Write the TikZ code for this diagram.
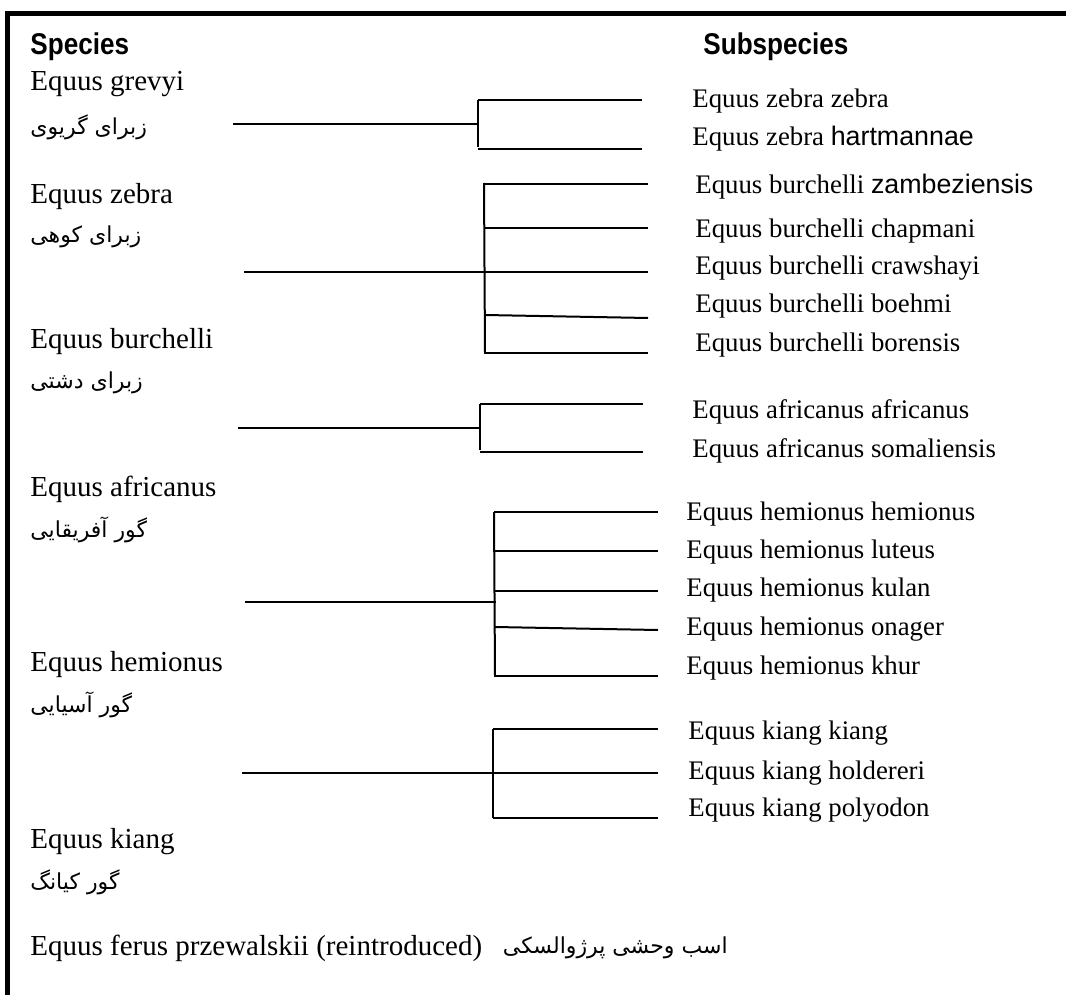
\documentclass[tikz,border=0pt]{standalone}
\usepackage{graphicx}
\usepackage{fontspec}
\setmainfont{Liberation Serif}
\setsansfont{Liberation Sans}
\newfontfamily\farsi[Script=Arabic]{DejaVu Sans}
\TeXXeTstate=1
\usetikzlibrary{positioning}
\tikzstyle{head} = [anchor=west, inner sep=0pt, font=\sffamily\bfseries\fontsize{15}{17}\selectfont]
\tikzstyle{species} = [anchor=west, inner sep=0pt, font=\fontsize{14.5}{17}\selectfont]
\tikzstyle{common} = [anchor=west, inner sep=0pt, font=\farsi\fontsize{11}{13}\selectfont]
\tikzstyle{subsp} = [anchor=west, inner sep=0pt, font=\fontsize{13.4}{16}\selectfont]
\tikzstyle{branch} = [line width=1pt]
\tikzstyle{frame} = [line width=2.5pt]

\begin{document}
\begin{tikzpicture}[x=0.5pt, y=-0.5pt]
\useasboundingbox (0,0) rectangle (1066,995);
\draw [frame] (5,14) -- (1066,14);
\draw [frame] (7.5,12) -- (7.5,995);

\node (hspecies) [head] at (30,47) {\scalebox{0.87}[1]{Species}};
\node (hsubspecies) [head] at (703,47) {\scalebox{0.87}[1]{Subspecies}};

% species column
\node (grevyi) [species] at (30,84) {Equus grevyi};
\node (cgrevyi) [common] at (30,127) {\beginR زبرای گریوی\endR};
\node (zebra) [species] at (30,197) {Equus zebra};
\node (czebra) [common] at (30,237) {\beginR زبرای کوهی\endR};
\node (burchelli) [species] at (30,342) {Equus burchelli};
\node (cburchelli) [common] at (30,383) {\beginR زبرای دشتی\endR};
\node (africanus) [species] at (30,489) {Equus africanus};
\node (cafricanus) [common] at (30,530) {\beginR گور آفریقایی\endR};
\node (hemionus) [species] at (30,665) {Equus hemionus};
\node (chemionus) [common] at (30,705) {\beginR گور آسیایی\endR};
\node (kiang) [species] at (30,842) {Equus kiang};
\node (ckiang) [common] at (30,882) {\beginR گور کیانگ\endR};
\node (przew) [species] at (30,948) {Equus ferus przewalskii (reintroduced)};
\node (cprzew) [common, right=10pt of przew] {\beginR اسب وحشی پرژوالسکی\endR};

% subspecies column
\node (zz) [subsp] at (692,101) {Equus zebra zebra};
\node (zh) [subsp] at (692,139) {Equus zebra \textsf{hartmannae}};
\node (bz) [subsp] at (695,187) {Equus burchelli \textsf{zambeziensis}};
\node (bc) [subsp] at (695,231) {Equus burchelli chapmani};
\node (bcr) [subsp] at (695,268) {Equus burchelli crawshayi};
\node (bb) [subsp] at (695,306) {Equus burchelli boehmi};
\node (bbo) [subsp] at (695,345) {Equus burchelli borensis};
\node (aa) [subsp] at (692,412) {Equus africanus africanus};
\node (as) [subsp] at (692,451) {Equus africanus somaliensis};
\node (hh) [subsp] at (686,514) {Equus hemionus hemionus};
\node (hl) [subsp] at (686,552) {Equus hemionus luteus};
\node (hk) [subsp] at (686,590) {Equus hemionus kulan};
\node (ho) [subsp] at (686,629) {Equus hemionus onager};
\node (hkh) [subsp] at (686,668) {Equus hemionus khur};
\node (kk) [subsp] at (688,733) {Equus kiang kiang};
\node (kh) [subsp] at (688,773) {Equus kiang holdereri};
\node (kp) [subsp] at (688,810) {Equus kiang polyodon};

% zebra tree
\coordinate (zroot) at (233,124);
\coordinate (zfork) at (478,124);
\draw [branch] (zroot) -- (zfork);
\draw [branch] (478,100) -- (478,147);
\foreach \y in {100,149} \draw [branch] (478,\y) -- (642,\y);

% burchelli tree
\coordinate (broot) at (244,272);
\coordinate (bfork) at (484,272);
\draw [branch] (broot) -- (bfork);
\draw [branch] (484,183) -- (485,353);
\foreach \y in {184,228,272,353} \draw [branch] (484,\y) -- (648,\y);
\draw [branch] (485,315) -- (648,318);

% africanus tree
\coordinate (aroot) at (238,428);
\coordinate (afork) at (480,428);
\draw [branch] (aroot) -- (afork);
\draw [branch] (480,404) -- (480,450);
\foreach \y in {404,452} \draw [branch] (480,\y) -- (643,\y);

% hemionus tree
\coordinate (hroot) at (245,602);
\coordinate (hfork) at (496,602);
\draw [branch] (hroot) -- (hfork);
\draw [branch] (494,512) -- (495,676);
\foreach \y in {512,551,591,676} \draw [branch] (494,\y) -- (658,\y);
\draw [branch] (495,627) -- (658,630);

% kiang tree
\coordinate (kroot) at (242,773);
\coordinate (kfork) at (493,773);
\draw [branch] (kroot) -- (kfork);
\draw [branch] (493,729) -- (493,818);
\foreach \y in {729,773,818} \draw [branch] (493,\y) -- (658,\y);

\end{tikzpicture}
\end{document}
